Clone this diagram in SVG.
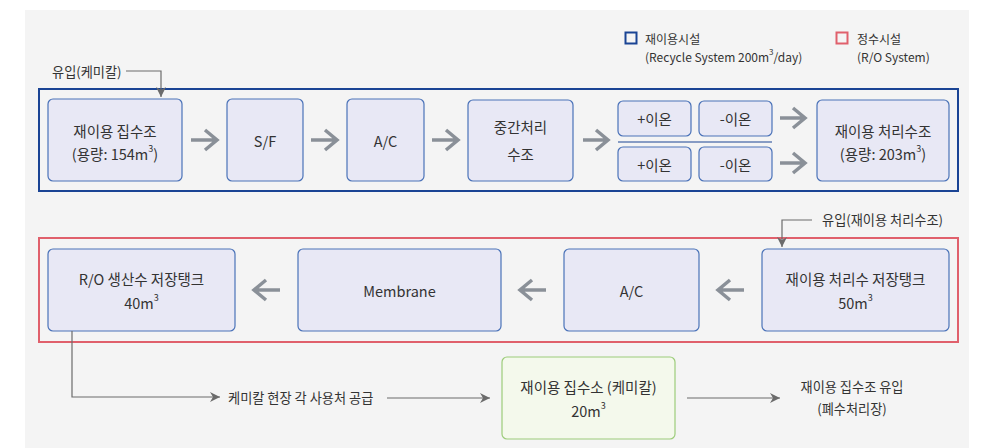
<svg xmlns="http://www.w3.org/2000/svg" width="986" height="448" viewBox="0 0 986 448">
<defs>
<style>
.t{font-family:"Noto Sans CJK KR","Noto Sans",sans-serif;fill:#333;font-size:14.5px;text-anchor:middle;dominant-baseline:central}
.s{font-family:"Noto Sans CJK KR","Noto Sans",sans-serif;fill:#333;font-size:12px;dominant-baseline:central}
.l{font-family:"Noto Sans CJK KR","Noto Sans",sans-serif;fill:#333;font-size:13.2px;dominant-baseline:central}
.n{fill:#e8e8f5;stroke:#4a72b8;stroke-width:1.2}
.g{fill:#f4f9ec;stroke:#9ccc7a;stroke-width:1.2}
.a{fill:none;stroke:#8a9098;stroke-width:3.5;stroke-linecap:butt;stroke-linejoin:miter}
.c{fill:none;stroke:#6b6b6b;stroke-width:1.2}
</style>
<marker id="ah" viewBox="0 0 10 10" refX="10" refY="5" markerWidth="10" markerHeight="10" markerUnits="userSpaceOnUse" orient="auto">
<path d="M0,0 L10,5 L0,10 L3,5 Z" fill="#6b6b6b"/>
</marker>
</defs>
<rect x="25" y="10" width="944" height="438" fill="#f4f4f4"/>

<g id="legend">
<rect x="625.5" y="32.5" width="11" height="11" fill="none" stroke="#1a4494" stroke-width="2"/>
<text class="s" x="645" y="38">재이용시설</text>
<text class="s" x="645" y="56">(Recycle System 200m<tspan font-size="8" dy="-5">3</tspan><tspan dy="5">/day)</tspan></text>
<rect x="836.5" y="32.5" width="11" height="11" fill="none" stroke="#e0606c" stroke-width="2"/>
<text class="s" x="857" y="38">정수시설</text>
<text class="s" x="857" y="56">(R/O System)</text>
</g>

<g id="frame-recycle"><rect x="39" y="89" width="919" height="102" fill="none" stroke="#1a4494" stroke-width="2"/></g>
<g id="frame-ro"><rect x="39" y="238" width="919" height="104" fill="none" stroke="#e0606c" stroke-width="2"/></g>

<g id="n1"><rect class="n" x="48" y="99" width="134" height="82" rx="5"/>
<text class="t" x="115" y="130">재이용 집수조</text>
<text class="t" x="115" y="153">(용량: 154m<tspan font-size="9" dy="-5">3</tspan><tspan dy="5">)</tspan></text></g>
<g id="n2"><rect class="n" x="227" y="99" width="76" height="82" rx="5"/><text class="t" x="265" y="140">S/F</text></g>
<g id="n3"><rect class="n" x="347" y="99" width="77" height="82" rx="5"/><text class="t" x="385.5" y="140">A/C</text></g>
<g id="n4"><rect class="n" x="468" y="100" width="105" height="81" rx="5"/>
<text class="t" x="520.5" y="126">중간처리</text><text class="t" x="520.5" y="153">수조</text></g>
<g id="ion1"><rect class="n" x="618" y="101" width="73" height="35" rx="5"/><text class="t" x="654.5" y="118.5">+이온</text></g>
<g id="ion2"><rect class="n" x="699" y="101" width="73" height="35" rx="5"/><text class="t" x="735.5" y="118.5">-이온</text></g>
<g id="ion3"><rect class="n" x="618" y="147" width="73" height="34" rx="5"/><text class="t" x="654.5" y="164">+이온</text></g>
<g id="ion4"><rect class="n" x="699" y="147" width="73" height="34" rx="5"/><text class="t" x="735.5" y="164">-이온</text></g>
<g id="sep"><line x1="618" y1="142" x2="772" y2="142" stroke="#1a4494" stroke-width="1"/></g>
<g id="n5"><rect class="n" x="817" y="100" width="132" height="81" rx="5"/>
<text class="t" x="883" y="130">재이용 처리수조</text>
<text class="t" x="883" y="153">(용량: 203m<tspan font-size="9" dy="-5">3</tspan><tspan dy="5">)</tspan></text></g>

<g id="r1"><rect class="n" x="48" y="249" width="187" height="82" rx="5"/>
<text class="t" x="141.5" y="278">R/O 생산수 저장탱크</text>
<text class="t" x="141.5" y="302">40m<tspan font-size="9" dy="-5">3</tspan></text></g>
<g id="r2"><rect class="n" x="298" y="249" width="203" height="82" rx="5"/><text class="t" x="399.5" y="290">Membrane</text></g>
<g id="r3"><rect class="n" x="564" y="249" width="135" height="82" rx="5"/><text class="t" x="631.5" y="290">A/C</text></g>
<g id="r4"><rect class="n" x="762" y="249" width="187" height="82" rx="5"/>
<text class="t" x="855.5" y="278">재이용 처리수 저장탱크</text>
<text class="t" x="855.5" y="302">50m<tspan font-size="9" dy="-5">3</tspan></text></g>

<g id="g1"><rect class="g" x="502" y="357" width="173" height="82" rx="5"/>
<text class="t" x="588.5" y="386">재이용 집수소 (케미칼)</text>
<text class="t" x="588.5" y="410">20m<tspan font-size="9" dy="-5">3</tspan></text></g>

<g id="labels">
<text class="l" x="52" y="71">유입(케미칼)</text>
<text class="l" x="822" y="219">유입(재이용 처리수조)</text>
<text class="l" x="228" y="397">케미칼 현장 각 사용처 공급</text>
<text class="l" x="852" y="386" text-anchor="middle">재이용 집수조 유입</text>
<text class="l" x="852" y="408" text-anchor="middle">(폐수처리장)</text>
</g>

<g id="connectors">
<path class="a" d="M191,140H217M205,130L217,140L205,150"/>
<path class="a" d="M311,140H337M325,130L337,140L325,150"/>
<path class="a" d="M432,140H458M446,130L458,140L446,150"/>
<path class="a" d="M583,140H608M596,130L608,140L596,150"/>
<path class="a" d="M780,118H805M793,108L805,118L793,128"/>
<path class="a" d="M780,163H805M793,153L805,163L793,173"/>
<path class="a" d="M280,290H254M266,280L254,290L266,300"/>
<path class="a" d="M546,290H520M532,280L520,290L532,300"/>
<path class="a" d="M744,290H718M730,280L718,290L730,300"/>
<path class="c" d="M126,71H161V97" marker-end="url(#ah)"/>
<path class="c" d="M812,220H782V247" marker-end="url(#ah)"/>
<path class="c" d="M72,331V397H220" marker-end="url(#ah)"/>
<path class="c" d="M387,398H490" marker-end="url(#ah)"/>
<path class="c" d="M687,398H780" marker-end="url(#ah)"/>
</g>
</svg>
